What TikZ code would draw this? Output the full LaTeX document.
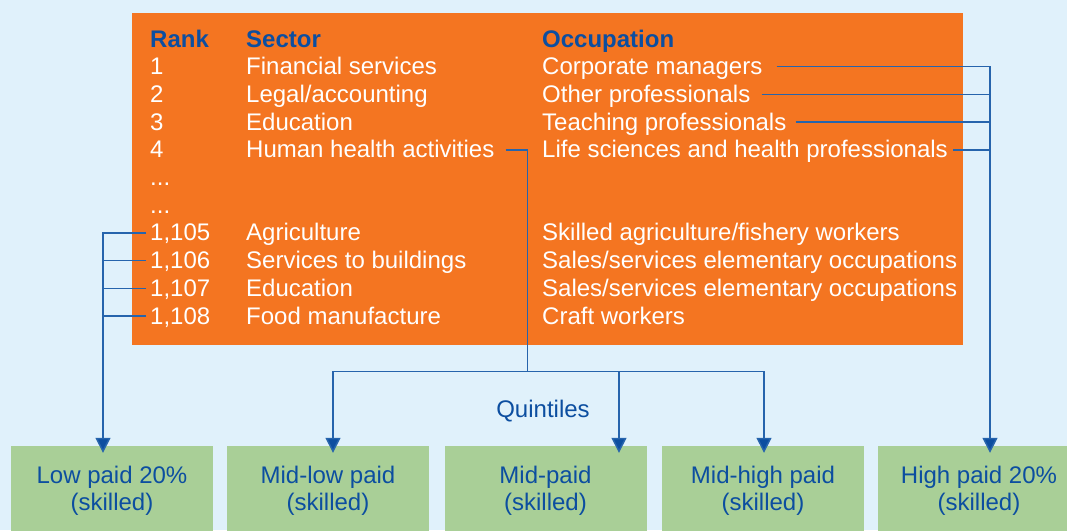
\documentclass[tikz,border=0pt]{standalone}
\usepackage{fontspec}
\setmainfont{Liberation Sans}
\usetikzlibrary{arrows.meta,calc}
\definecolor{bg}{RGB}{224,241,251}
\definecolor{orng}{RGB}{244,117,33}
\definecolor{grn}{RGB}{169,207,151}
\definecolor{tblue}{RGB}{12,78,160}
\definecolor{lblue}{RGB}{38,100,172}
\begin{document}
\begin{tikzpicture}[x=1pt,y=-1pt,
 txt/.style={font=\fontsize{24}{27}\selectfont},
 cell/.style={txt, anchor=base west, inner sep=0pt, text=white},
 head/.style={cell, text=tblue, font=\fontsize{24}{27}\selectfont\bfseries},
 gbox/.style={txt, fill=grn, minimum width=202pt, minimum height=90pt, inner sep=0pt, align=center, text=tblue},
 conn/.style={draw=lblue, line width=1.5pt},
 arr/.style={conn, -{Triangle[length=15pt,width=15pt,fill=tblue]}}
]
\useasboundingbox (0,0) rectangle (1067,530);
\begin{scope}
\clip (0,0) rectangle (1067,530);
\fill[bg] (0,0) rectangle (1067,530);
\node[fill=orng, minimum width=831pt, minimum height=332pt, inner sep=0pt, anchor=north west] (panel) at (132,13) {};
% header
\node[head] (hr) at (150,47) {Rank};
\node[head] (hs) at (246,47) {Sector};
\node[head] (ho) at (542,47) {Occupation};
% rows
\node[cell] (k1) at (150,74.7) {1};
\node[cell] (s1) at (246,74.7) {Financial services};
\node[cell] (o1) at (542,74.7) {Corporate managers};
\node[cell] (k2) at (150,102.4) {2};
\node[cell] (s2) at (246,102.4) {Legal/accounting};
\node[cell] (o2) at (542,102.4) {Other professionals};
\node[cell] (k3) at (150,130.1) {3};
\node[cell] (s3) at (246,130.1) {Education};
\node[cell] (o3) at (542,130.1) {Teaching professionals};
\node[cell] (k4) at (150,157.8) {4};
\node[cell] (s4) at (246,157.8) {Human health activities};
\node[cell] (o4) at (542,157.8) {Life sciences and health professionals};
\node[cell] (d1) at (150,185.5) {...};
\node[cell] (d2) at (150,213.2) {...};
\node[cell] (k5) at (150,240.9) {1,105};
\node[cell] (s5) at (246,240.9) {Agriculture};
\node[cell] (o5) at (542,240.9) {Skilled agriculture/fishery workers};
\node[cell] (k6) at (150,268.6) {1,106};
\node[cell] (s6) at (246,268.6) {Services to buildings};
\node[cell] (o6) at (542,268.6) {Sales/services elementary occupations};
\node[cell] (k7) at (150,296.3) {1,107};
\node[cell] (s7) at (246,296.3) {Education};
\node[cell] (o7) at (542,296.3) {Sales/services elementary occupations};
\node[cell] (k8) at (150,324) {1,108};
\node[cell] (s8) at (246,324) {Food manufacture};
\node[cell] (o8) at (542,324) {Craft workers};
% green boxes
\node[gbox] (g1) at (112,491) {Low paid 20\%\\(skilled)};
\node[gbox] (g2) at (328,491) {Mid-low paid\\(skilled)};
\node[gbox] (g3) at (545.5,491) {Mid-paid\\(skilled)};
\node[gbox] (g4) at (763,491) {Mid-high paid\\(skilled)};
\node[gbox] (g5) at (979,491) {High paid 20\%\\(skilled)};
\node[txt, text=tblue, anchor=base, inner sep=0pt] (q) at (543,417) {Quintiles};
% right connectors
\coordinate (o1s) at ($(o1.base east)+(14,-8)$);
\coordinate (o2s) at ($(o2.base east)+(11,-8)$);
\coordinate (o3s) at ($(o3.base east)+(9,-8)$);
\coordinate (o4s) at ($(o4.base east)+(5,-8)$);
\coordinate (rv) at (990,66.7);
\draw[arr] (o1s) -- (rv) -- ([yshift=-7pt]rv |- g5.north);
\draw[conn] (o2s) -- (o2s -| rv);
\draw[conn] (o3s) -- (o3s -| rv);
\draw[conn] (o4s) -- (o4s -| rv);
% middle connectors
\coordinate (s4s) at ($(s4.base east)+(11,-8)$);
\coordinate (mv) at (527.5,149.8);
\coordinate (mj) at (527.5,371.5);
\coordinate (ql) at (333,371.5);
\coordinate (qm) at (619,371.5);
\coordinate (qr) at (764,371.5);
\draw[conn] (s4s) -- (mv) -- (mj);
\draw[arr] (mj) -- (ql) -- ([yshift=-7pt]ql |- g2.north);
\draw[arr] (mj) -- (qr) -- ([yshift=-7pt]qr |- g4.north);
\draw[arr] (qm) -- ([yshift=-7pt]qm |- g3.north);
% left connectors
\coordinate (k5s) at ($(k5.base west)+(-4,-8)$);
\coordinate (k6s) at ($(k6.base west)+(-4,-8)$);
\coordinate (k7s) at ($(k7.base west)+(-4,-8)$);
\coordinate (k8s) at ($(k8.base west)+(-4,-8)$);
\coordinate (lv) at (103,232.9);
\draw[arr] (k5s) -- (lv) -- ([yshift=-7pt]lv |- g1.north);
\draw[conn] (k6s) -- (k6s -| lv);
\draw[conn] (k7s) -- (k7s -| lv);
\draw[conn] (k8s) -- (k8s -| lv);
\end{scope}
\end{tikzpicture}
\end{document}
